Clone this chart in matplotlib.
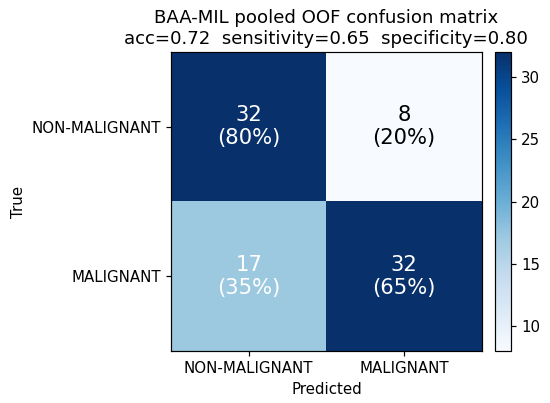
import matplotlib
matplotlib.use("Agg")
import matplotlib.pyplot as plt
import numpy as np

# class names and counts (rows = true, cols = predicted)
class_names = ["NON-MALIGNANT", "MALIGNANT"]
cm_counts = [[32, 8],
             [17, 32]]
acc = 0.72
sensitivity = 0.65
specificity = 0.80

cm = np.array(cm_counts)
row_pct = cm / cm.sum(axis=1, keepdims=True) * 100

# the reference looks rendered a bit larger, so scale fonts/lines a touch
s = 1.085
plt.rcParams["axes.linewidth"] = 0.8 * s
plt.rcParams["xtick.major.size"] = 3.5 * s
plt.rcParams["ytick.major.size"] = 3.5 * s
plt.rcParams["xtick.major.width"] = 0.8 * s
plt.rcParams["ytick.major.width"] = 0.8 * s

fig = plt.figure(figsize=(5.5, 4.03), dpi=100)
ax = fig.add_axes([0.311, 0.129, 0.565, 0.742])
cax = fig.add_axes([0.900, 0.129, 0.029, 0.742])

im = ax.imshow(cm, cmap="Blues", aspect="auto")
fig.colorbar(im, cax=cax)
cax.tick_params(labelsize=10 * s)

# cell annotations, white on the dark cells
thresh = cm.max() / 2
for i in range(cm.shape[0]):
    for j in range(cm.shape[1]):
        colour = "white" if cm[i, j] > thresh else "black"
        ax.text(j, i, f"{cm[i, j]}\n({row_pct[i, j]:.0f}%)",
                ha="center", va="center", fontsize=14 * s, color=colour)

ax.set_xticks(range(len(class_names)))
ax.set_xticklabels(class_names, fontsize=10 * s)
ax.set_yticks(range(len(class_names)))
ax.set_yticklabels(class_names, fontsize=10 * s)
ax.set_xlabel("Predicted", fontsize=10 * s)
ax.set_ylabel("True", fontsize=10 * s)
ax.set_title(f"BAA-MIL pooled OOF confusion matrix\n"
             f"acc={acc:.2f}  sensitivity={sensitivity:.2f}  specificity={specificity:.2f}",
             fontsize=12 * s)

fig.savefig("out.png", dpi=100)
